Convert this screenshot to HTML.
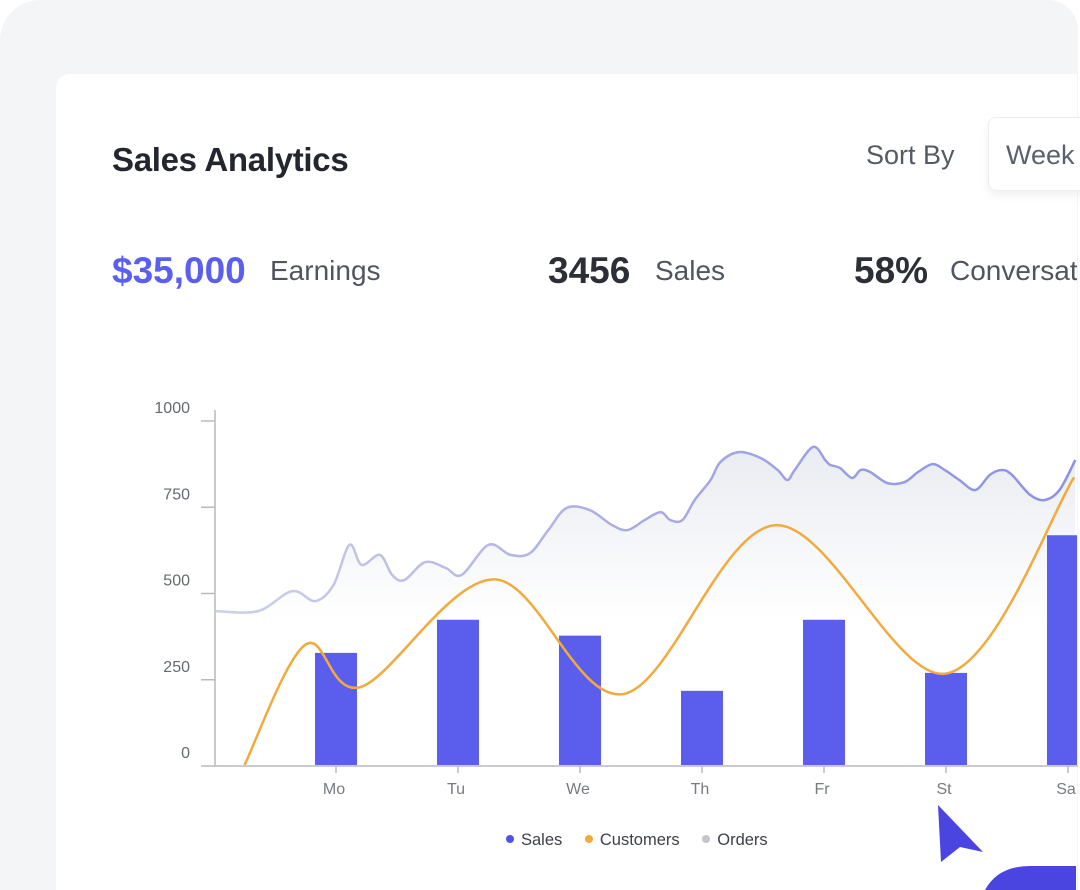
<!DOCTYPE html>
<html><head><meta charset="utf-8">
<style>
html,body{margin:0;padding:0;width:1080px;height:890px;overflow:hidden;background:#fff;font-family:"Liberation Sans",sans-serif;}
#frame{position:absolute;left:0;top:0;width:1078px;height:890px;background:#f4f5f7;border-radius:40px 30px 0 0;}
#card{position:absolute;left:56px;top:74px;width:1021px;height:816px;background:#fff;border-radius:14px 0 0 0;}
.t{position:absolute;white-space:nowrap;}
</style></head><body>
<div id="frame"></div>
<div id="card"></div>
<div class="t" style="left:112px;top:141px;font-size:33px;font-weight:bold;color:#23262f;letter-spacing:-0.3px">Sales Analytics</div>
<div class="t" style="left:866px;top:140px;font-size:27px;color:#555a63">Sort By</div>
<div class="t" style="left:988px;top:117px;width:100px;height:72px;border:1px solid #eceef2;border-radius:8px;box-shadow:0 4px 10px rgba(0,0,0,0.06);background:#fff"><span style="position:absolute;left:17px;top:22px;font-size:27px;color:#5a6070">Week</span></div>
<div class="t" style="left:112px;top:250px;font-size:37px;font-weight:bold;color:#5b5ff0">$35,000</div>
<div class="t" style="left:270px;top:255px;font-size:28px;color:#50555e">Earnings</div>
<div class="t" style="left:548px;top:250px;font-size:37px;font-weight:bold;color:#2c2f36">3456</div>
<div class="t" style="left:655px;top:255px;font-size:28px;color:#50555e">Sales</div>
<div class="t" style="left:854px;top:250px;font-size:37px;font-weight:bold;color:#2c2f36">58%</div>
<div class="t" style="left:950px;top:255px;font-size:28px;color:#50555e;width:127px;overflow:hidden">Conversation</div>

<svg id="chart" width="1080" height="890" style="position:absolute;left:0;top:0">
<defs>
<linearGradient id="fillG" x1="0" y1="440" x2="0" y2="620" gradientUnits="userSpaceOnUse"><stop offset="0" stop-color="#e8ebf1"/><stop offset="1" stop-color="#ffffff"/></linearGradient>
<linearGradient id="lineG" x1="215" y1="0" x2="1077" y2="0" gradientUnits="userSpaceOnUse"><stop offset="0" stop-color="#cdd0e8"/><stop offset="0.5" stop-color="#a8abe4"/><stop offset="1" stop-color="#8c90e2"/></linearGradient>
<clipPath id="clip"><rect x="215" y="380" width="862" height="400"/></clipPath>
</defs>
<g id="plot" clip-path="url(#clip)"></g>
<g id="axes"></g>
</svg>

<div class="t" style="left:506px;top:831px;font-size:16.5px;color:#3d4048">
<span><span style="display:inline-block;width:8px;height:8px;border-radius:50%;background:#4f51e6;margin-right:7px;vertical-align:2px"></span>Sales</span>
<span style="margin-left:18px"><span style="display:inline-block;width:8px;height:8px;border-radius:50%;background:#f2aa3c;margin-right:7px;vertical-align:2px"></span>Customers</span>
<span style="margin-left:18px"><span style="display:inline-block;width:8px;height:8px;border-radius:50%;background:#c4c6cc;margin-right:7px;vertical-align:2px"></span>Orders</span>
</div>
<svg width="1080" height="890" style="position:absolute;left:0;top:0;pointer-events:none">
<polygon points="938,805 983,852 960,847 941,862" fill="#4a44e0"/>
<path d="M985,890 Q998,866 1030,866 L1076,866 L1076,890 Z" fill="#4a44e0"/>
</svg>
<script>
const categories=["Mo","Tu","We","Th","Fr","St","Sa"];
const salesValues=[325,421,375,215,421,267,666];
const yTicks=[0,250,500,750,1000];
const customersT=[-0.75,-0.25,0.21,1.3,2.36,3.6,5.0,6.05];
const customersV=[0,349,227,538,206,695,265,834];
const ordersT=[-0.99,-0.64,-0.36,-0.17,-0.02,0.11,0.21,0.36,0.46,0.56,0.73,0.9,1.03,1.25,1.43,1.59,1.74,1.89,2.08,2.26,2.39,2.53,2.66,2.74,2.84,2.94,3.07,3.15,3.3,3.48,3.62,3.7,3.76,3.91,4.01,4.05,4.13,4.23,4.3,4.38,4.52,4.66,4.77,4.89,4.99,5.11,5.24,5.36,5.46,5.54,5.69,5.81,5.93,6.06];
const ordersV=[446,446,504,475,522,638,580,609,551,536,588,571,551,638,609,614,681,745,739,696,681,710,733,710,710,768,826,878,907,890,855,826,855,922,884,870,861,832,855,849,817,820,849,872,855,826,797,841,855,841,783,768,797,884];
const NS="http://www.w3.org/2000/svg";
const X0=336,DX=122,Y0=765,SY=0.345;
function xs(t){return X0+t*DX;}
function ys(v){return Y0-v*SY;}
function smooth(pts){
  let d="M"+pts[0][0]+","+pts[0][1];
  for(let i=0;i<pts.length-1;i++){
    const p0=pts[Math.max(0,i-1)],p1=pts[i],p2=pts[i+1],p3=pts[Math.min(pts.length-1,i+2)];
    const c1x=p1[0]+(p2[0]-p0[0])/6,c1y=p1[1]+(p2[1]-p0[1])/6;
    const c2x=p2[0]-(p3[0]-p1[0])/6,c2y=p2[1]-(p3[1]-p1[1])/6;
    d+=" C"+c1x+","+c1y+" "+c2x+","+c2y+" "+p2[0]+","+p2[1];
  }
  return d;
}
function mk(tag,attrs,parent){const e=document.createElementNS(NS,tag);for(const k in attrs)e.setAttribute(k,attrs[k]);parent.appendChild(e);return e;}
const plot=document.getElementById("plot"),axes=document.getElementById("axes");
const op=ordersT.map((t,i)=>[xs(t),ys(ordersV[i])]);
const od=smooth(op);
const fill=mk("path",{d:od+" L"+op[op.length-1][0]+","+Y0+" L"+op[0][0]+","+Y0+" Z",fill:"url(#fillG)"},plot);


const ol=mk("path",{d:od,fill:"none",stroke:"url(#lineG)","stroke-width":2.5},plot);


salesValues.forEach((v,i)=>{
  const b=mk("rect",{x:xs(i)-21,y:ys(v),width:42,height:v*SY,fill:"#5b5eec"},plot);
  
  
});
const cp=customersT.map((t,i)=>[xs(t),ys(customersV[i])]);
const cl=mk("path",{d:smooth(cp),fill:"none",stroke:"#f2aa3c","stroke-width":2.5},plot);


const ya=mk("line",{x1:215,y1:410,x2:215,y2:766,stroke:"#c8cad0","stroke-width":2},axes);


const xa=mk("line",{x1:214,y1:766,x2:1078,y2:766,stroke:"#c8cad0","stroke-width":2},axes);


yTicks.forEach(v=>{
  mk("line",{x1:201,y1:ys(v)+1,x2:215,y2:ys(v)+1,stroke:"#b8bac0","stroke-width":1.5},axes);
  const t=mk("text",{x:190,y:ys(v)-7,"text-anchor":"end","font-size":16,fill:"#666a72","font-family":"Liberation Sans, sans-serif"},axes);
  t.textContent=v;
  
  
});
categories.forEach((c,i)=>{
  mk("line",{x1:xs(i),y1:766,x2:xs(i),y2:773,stroke:"#b8bac0","stroke-width":1.5},axes);
  const t=mk("text",{x:xs(i)-2,y:794,"text-anchor":"middle","font-size":16,fill:"#777a82","font-family":"Liberation Sans, sans-serif"},axes);
  t.textContent=c;
  
  
});
</script>
</body></html>
